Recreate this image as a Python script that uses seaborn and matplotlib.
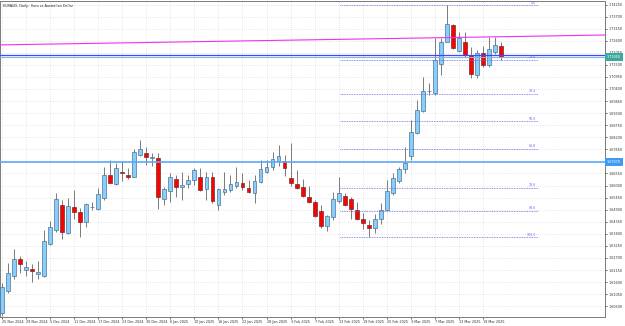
import numpy as np
import pandas as pd
import matplotlib
matplotlib.use("Agg")
import matplotlib.pyplot as plt
import matplotlib.transforms as mtransforms
import seaborn as sns

title = "EURAUD, Daily:  Euro vs Australian Dollar"

opens = [1.6020, 1.6119, 1.6187, 1.6264, 1.6215, 1.6221, 1.6198, 1.6187, 1.6332, 1.6397,
         1.6511, 1.6382, 1.6501, 1.6478, 1.6432, 1.6500, 1.6494, 1.6545, 1.6648, 1.6606,
         1.6663, 1.6648, 1.6640, 1.6739, 1.6750, 1.6724, 1.6727, 1.6537, 1.6575, 1.6628,
         1.6595, 1.6606, 1.6625, 1.6638, 1.6586, 1.6638, 1.6511, 1.6571, 1.6578, 1.6596,
         1.6613, 1.6587, 1.6565, 1.6617, 1.6663, 1.6683, 1.6713, 1.6713, 1.6633, 1.6607,
         1.6592, 1.6546, 1.6525, 1.6485, 1.6417, 1.6458, 1.6531, 1.6552, 1.6537, 1.6488,
         1.6446, 1.6419, 1.6405, 1.6447, 1.6488, 1.6567, 1.6621, 1.6674, 1.6735, 1.6841,
         1.6941, 1.7029, 1.7023, 1.7153, 1.7256, 1.7332, 1.7215, 1.7256, 1.7195, 1.7104,
         1.7206, 1.7150, 1.7210, 1.7236]
highs = [1.6156, 1.6248, 1.6309, 1.6279, 1.6256, 1.6241, 1.6254, 1.6397, 1.6438, 1.6567,
         1.6534, 1.6543, 1.6580, 1.6496, 1.6522, 1.6526, 1.6587, 1.6686, 1.6716, 1.6701,
         1.6710, 1.6680, 1.6765, 1.6808, 1.6777, 1.6748, 1.6747, 1.6595, 1.6656, 1.6648,
         1.6660, 1.6648, 1.6681, 1.6681, 1.6660, 1.6660, 1.6587, 1.6663, 1.6648, 1.6686,
         1.6656, 1.6625, 1.6648, 1.6716, 1.6716, 1.6752, 1.6785, 1.6739, 1.6795, 1.6671,
         1.6628, 1.6598, 1.6534, 1.6511, 1.6466, 1.6572, 1.6640, 1.6565, 1.6546, 1.6526,
         1.6473, 1.6443, 1.6470, 1.6519, 1.6625, 1.6656, 1.6686, 1.6777, 1.6899, 1.6990,
         1.7094, 1.7069, 1.7271, 1.7271, 1.7423, 1.7337, 1.7301, 1.7299, 1.7233, 1.7218,
         1.7236, 1.7276, 1.7276, 1.7253]
lows = [1.6005, 1.6110, 1.6172, 1.6203, 1.6187, 1.6161, 1.6172, 1.6183, 1.6329, 1.6389,
        1.6355, 1.6379, 1.6446, 1.6364, 1.6412, 1.6488, 1.6487, 1.6534, 1.6610, 1.6601,
        1.6621, 1.6628, 1.6638, 1.6735, 1.6694, 1.6689, 1.6492, 1.6511, 1.6526, 1.6546,
        1.6534, 1.6587, 1.6602, 1.6576, 1.6534, 1.6522, 1.6488, 1.6557, 1.6572, 1.6587,
        1.6580, 1.6567, 1.6522, 1.6612, 1.6656, 1.6671, 1.6689, 1.6643, 1.6598, 1.6586,
        1.6546, 1.6519, 1.6458, 1.6405, 1.6394, 1.6443, 1.6519, 1.6507, 1.6449, 1.6443,
        1.6400, 1.6364, 1.6382, 1.6425, 1.6485, 1.6557, 1.6610, 1.6659, 1.6716, 1.6835,
        1.6937, 1.7013, 1.7013, 1.7104, 1.7252, 1.7221, 1.7210, 1.7185, 1.7089, 1.7089,
        1.7142, 1.7142, 1.7200, 1.7172]
closes = [1.6139, 1.6203, 1.6264, 1.6241, 1.6230, 1.6212, 1.6206, 1.6347, 1.6410, 1.6537,
          1.6389, 1.6507, 1.6481, 1.6435, 1.6514, 1.6502, 1.6560, 1.6648, 1.6613, 1.6681,
          1.6656, 1.6640, 1.6754, 1.6765, 1.6729, 1.6731, 1.6549, 1.6583, 1.6638, 1.6595,
          1.6601, 1.6625, 1.6671, 1.6580, 1.6640, 1.6529, 1.6583, 1.6586, 1.6606, 1.6616,
          1.6593, 1.6572, 1.6621, 1.6674, 1.6683, 1.6720, 1.6735, 1.6681, 1.6610, 1.6590,
          1.6552, 1.6525, 1.6462, 1.6415, 1.6460, 1.6537, 1.6567, 1.6511, 1.6492, 1.6446,
          1.6428, 1.6405, 1.6449, 1.6488, 1.6576, 1.6633, 1.6674, 1.6704, 1.6845, 1.6944,
          1.7032, 1.7032, 1.7172, 1.7256, 1.7337, 1.7226, 1.7271, 1.7195, 1.7109, 1.7206,
          1.7150, 1.7221, 1.7241, 1.7185]

date_labels = ["25 Nov 2024", "29 Nov 2024", "5 Dec 2024", "11 Dec 2024", "17 Dec 2024",
               "23 Dec 2024", "30 Dec 2024", "6 Jan 2025", "10 Jan 2025", "16 Jan 2025",
               "22 Jan 2025", "28 Jan 2025", "3 Feb 2025", "7 Feb 2025", "13 Feb 2025",
               "19 Feb 2025", "25 Feb 2025", "3 Mar 2025", "7 Mar 2025", "13 Mar 2025",
               "19 Mar 2025"]
label_bars = [0, 4, 8, 12, 16, 20, 24, 28, 32, 36, 40, 44, 48, 52, 56, 60, 64, 68, 72, 76, 80]

price_ticks = [1.74250, 1.73700, 1.73150, 1.72600, 1.72050, 1.71500, 1.70950, 1.70400,
               1.69850, 1.69300, 1.68750, 1.68200, 1.67650, 1.67100, 1.66550, 1.66000,
               1.65450, 1.64900, 1.64350, 1.63800, 1.63250, 1.62700, 1.62150, 1.61600,
               1.61050, 1.60500]

fib_high = 1.7423
fib_low = 1.6364
fib_ratios = [0.0, 23.6, 38.2, 50.0, 61.8, 78.6, 88.6, 100.0]
fib_names = ["0.0", "23.6", "38.2", "50.0", "61.8", "78.6", "88.6", "100.0"]
fib_x = [56.2, 89.1]

trend_x = [-0.3, 100.2]
trend_y = [1.7241, 1.7286]
blue_level = 1.7195
bid_level = 1.7185
support_level = 1.6707

df = pd.DataFrame({"open": opens, "high": highs, "low": lows, "close": closes})
df["bar"] = np.arange(len(df))
df["bull"] = df["close"] >= df["open"]

sns.set_theme(style="white")
plt.rcParams['font.family'] = ['DejaVu Sans']

fig = plt.figure(figsize=(6.25, 3.26), dpi=100)
fig.patch.set_facecolor("white")
ax = fig.add_axes([0.0, 9 / 326, 605 / 625, 316 / 326])
ax.set_facecolor("white")

ax.set_xlim(-0.282, 100.22)
ax.set_ylim(1.6001, 1.7441)

# grid
ax.set_xticks(label_bars)
ax.set_yticks(price_ticks)
ax.grid(True, color="#d2d2d2", linestyle=(0, (1, 2)), linewidth=0.5)
ax.set_axisbelow(True)

# wicks
ax.vlines(df["bar"], df["low"], df["high"], color="#7a7a7a", linewidth=0.7, zorder=2)

# bodies
bottoms = np.minimum(df["open"], df["close"])
heights = np.maximum(np.abs(df["close"] - df["open"]), 0.00018)
fills = np.where(df["bull"], "#87cefa", "#ff0000")
edges = np.where(df["bull"], "#4f7396", "#6b3030")
ax.bar(df["bar"], heights, bottom=bottoms, width=0.62, color=fills,
       edgecolor=edges, linewidth=0.5, zorder=3)

# horizontal / trend lines
tl = pd.DataFrame({"x": trend_x, "y": trend_y})
sns.lineplot(data=tl, x="x", y="y", ax=ax, color="#f030f0", linewidth=0.8, zorder=4)
ax.axhline(blue_level, color="#4545ff", linewidth=0.9, zorder=4)
ax.axhline(bid_level, color="#7ab8f0", linewidth=0.8, zorder=4)
ax.axhline(support_level, color="#5aa8ff", linewidth=1.2, zorder=4)

# fibonacci levels
fib_color = "#6a6ae6"
for r, name in zip(fib_ratios, fib_names):
    lvl = fib_high - r / 100.0 * (fib_high - fib_low)
    ax.hlines(lvl, fib_x[0], fib_x[1], colors=fib_color, linestyles=(0, (1, 1)),
              linewidth=0.6, zorder=4)
    ax.text(fib_x[1] - 0.3, lvl + 0.0002, name, fontsize=2.3, color=fib_color,
            ha="right", va="bottom", zorder=5)

# axes styling
ax.yaxis.tick_right()
ax.tick_params(axis="y", which="both", right=True, left=False, length=1.5, width=0.5,
               pad=1.0, labelsize=2.4, colors="#303030")
ax.tick_params(axis="x", which="both", bottom=True, length=1.5, width=0.5,
               pad=0.8, labelsize=2.4, colors="#303030")
# the tick label hidden behind the support-line price box is left blank
ylabels = []
for v in price_ticks:
    if abs(v - support_level) < 0.0025:
        ylabels.append("")
    else:
        ylabels.append(f"{v:.5f}")
ax.set_yticklabels(ylabels)
ax.set_xticklabels(date_labels, ha="left")
for lab in ax.get_xticklabels():
    lab.set_horizontalalignment("left")
ax.set_xlabel("")
ax.set_ylabel("")
for s in ax.spines.values():
    s.set_color("#7a7a7a")
    s.set_linewidth(0.7)
    s.set_visible(True)

# price boxes on the right axis
trans = mtransforms.blended_transform_factory(ax.transAxes, ax.transData)
ax.text(1.003, bid_level, f"{bid_level:.5f}", transform=trans, fontsize=2.4, color="white",
        ha="left", va="center", zorder=6, clip_on=False,
        bbox=dict(boxstyle="square,pad=0.6", fc="#3aaa9c", ec="none"))
ax.text(1.003, support_level, f"{support_level:.5f}", transform=trans, fontsize=2.4,
        color="white", ha="left", va="center", zorder=6, clip_on=False,
        bbox=dict(boxstyle="square,pad=0.6", fc="#3d9cf2", ec="none"))

ax.text(0.005, 0.99, title, transform=ax.transAxes, fontsize=2.4, color="#202020",
        ha="left", va="top")

fig.savefig("out.png", dpi=100, facecolor="white")
